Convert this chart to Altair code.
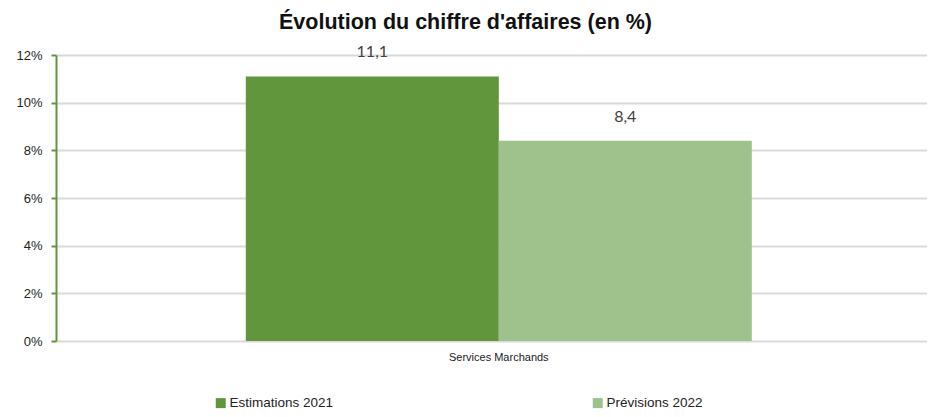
import altair as alt
import pandas as pd

categories = ["Services Marchands", "Services Marchands"]
series = ["Estimations 2021", "Prévisions 2022"]
values = [11.1, 8.4]
colors = ["#62963C", "#9DC28B"]
y_ticks = [0, 2, 4, 6, 8, 10, 12]

df = pd.DataFrame({"cat": categories, "serie": series, "value": values})

base = alt.Chart(df).encode(
    x=alt.X("cat:N", title=None,
            scale=alt.Scale(paddingInner=0, paddingOuter=0.3607, align=0.52),
            axis=alt.Axis(labelAngle=0, domain=False, ticks=False, labelPadding=10,
                          labelFont="Liberation Sans", labelFontSize=11,
                          labelColor="#222222")),
    xOffset=alt.XOffset("serie:N", sort=series),
)

bars = base.mark_bar().encode(
    y=alt.Y("value:Q", title=None,
            scale=alt.Scale(domain=[0, 12], nice=False),
            axis=alt.Axis(values=y_ticks, labelExpr="datum.value + '%'",
                          domainColor="#62963C", domainWidth=2,
                          tickColor="#62963C", tickWidth=2, tickSize=5,
                          labelPadding=9, labelFont="Liberation Sans",
                          labelFontSize=13, labelColor="#222222",
                          gridColor="#D9D9D9", gridWidth=2)),
    color=alt.Color("serie:N", sort=series,
                    scale=alt.Scale(domain=series, range=colors),
                    legend=alt.Legend(title=None, orient="none", legendX=158, legendY=341,
                                      direction="horizontal", columns=2,
                                      columnPadding=257, symbolType="square",
                                      symbolSize=100, symbolStrokeWidth=0,
                                      labelOffset=2,
                                      labelFont="Liberation Sans", labelFontSize=13.5,
                                      labelColor="#222222")),
)

labels = base.mark_text(dy=-24, font="Lato", fontSize=16, color="#404040").transform_calculate(
    label="replace(format(datum.value, '.1f'), '.', ',')"
).encode(
    y=alt.Y("value:Q"),
    text=alt.Text("label:N"),
)

chart = alt.layer(bars, labels).properties(
    width=871, height=286,
    autosize=alt.AutoSizeParams(type="none"),
    padding={"left": 48, "top": 47, "right": 0, "bottom": 68},
    title=alt.TitleParams("Évolution du chiffre d'affaires (en %)", anchor="middle",
                          font="Liberation Sans", fontSize=21.5, fontWeight="bold",
                          color="#111111", dx=-26, offset=11),
).configure_view(stroke=None)

chart.save("out.html", embed_options={"renderer": "svg", "actions": False})
